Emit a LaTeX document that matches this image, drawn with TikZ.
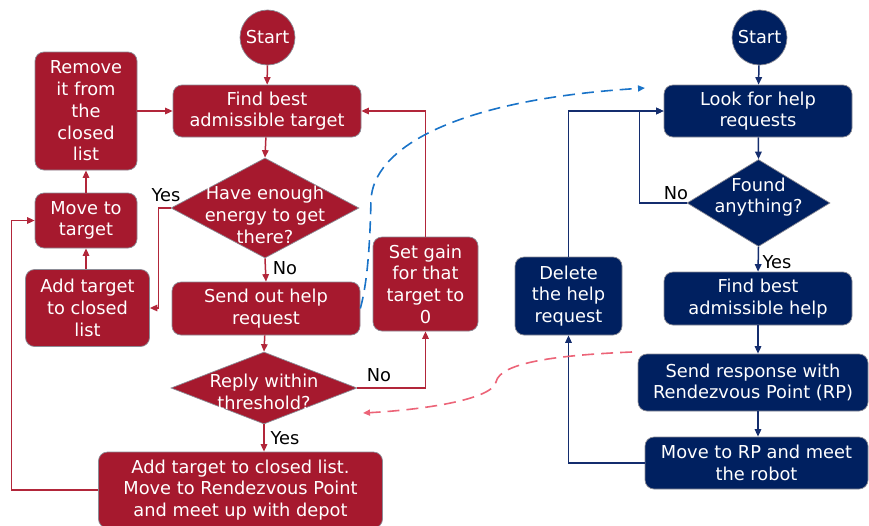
\documentclass[tikz,border=0pt]{standalone}
\usepackage{fontspec}
\setmainfont{DejaVu Sans}
\usetikzlibrary{shapes.geometric,arrows.meta}
\definecolor{robred}{RGB}{166,25,46}
\definecolor{robredline}{RGB}{178,38,58}
\definecolor{depnavy}{RGB}{0,32,96}
\definecolor{depnavyline}{RGB}{20,45,110}
\definecolor{edgegray}{RGB}{140,140,150}
\definecolor{reqblue}{RGB}{25,115,200}
\definecolor{resppink}{RGB}{236,100,120}
\tikzset{
  txt/.style={font=\fontsize{17.8}{21.7}\selectfont, text=white, align=center},
  procbox/.style={txt, rectangle, rounded corners=9pt, draw=edgegray, line width=0.7pt, inner sep=2pt},
  startdot/.style={txt, circle, draw=edgegray, line width=0.7pt, minimum size=55pt, inner sep=0pt},
  decision/.style={diamond, draw=edgegray, line width=0.7pt, inner sep=0pt},
  redbox/.style={fill=robred},
  navybox/.style={fill=depnavy},
  tip/.style={-{Triangle[length=7.5pt,width=6.5pt]}},
  redflow/.style={tip, draw=robredline, line width=1.5pt},
  navyflow/.style={tip, draw=depnavyline, line width=1.5pt},
  answer/.style={font=\fontsize{17.8}{21.7}\selectfont, text=black, inner sep=0pt},
  msg/.style={line width=1.6pt, dash pattern=on 12pt off 7pt, -{Triangle[length=7pt,width=6pt]}},
}
\begin{document}
\begin{tikzpicture}[x=1pt, y=-1pt]
\useasboundingbox (0,0) rectangle (869,525);

% ---------------- robot side (red) ----------------
\node[startdot, redbox] (s1) at (267.5,37.5) {\raisebox{-1.5pt}{Start}};
\node[procbox, redbox, minimum width=188pt, minimum height=52pt] (find) at (267,111) {Find best\\admissible target};
\node[procbox, redbox, minimum width=102pt, minimum height=118pt] (remove) at (86,111) {Remove\\it from\\the\\closed\\list};
\node[decision, redbox, minimum width=188pt, minimum height=100pt] (d1) at (265,208) {};
\node[txt] (d1t) at (265,215) {Have enough\\energy to get\\there?};
\node[procbox, redbox, minimum width=102pt, minimum height=55pt] (move) at (86,220.5) {Move to\\target};
\node[procbox, redbox, minimum width=124pt, minimum height=77pt] (addt) at (87.5,308) {Add target\\to closed\\list};
\node[procbox, redbox, minimum width=188pt, minimum height=53pt] (send) at (266,308.5) {Send out help\\request};
\node[decision, redbox, minimum width=186pt, minimum height=72pt] (d2) at (264,388) {};
\node[txt] (d2t) at (264,392) {Reply within\\threshold?};
\node[procbox, redbox, minimum width=284pt, minimum height=76pt] (final) at (240.5,490) {Add target to closed list.\\Move to Rendezvous Point\\and meet up with depot};
\node[procbox, redbox, minimum width=105pt, minimum height=94pt] (gain) at (425.5,284) {Set gain\\for that\\target to\\0};

\draw[redflow] (s1) -- (find);
\draw[redflow] (find) -- (d1.north);
\draw[redflow] (remove) -- (find);
\draw[redflow] (move) -- (remove);
\draw[redflow] (addt.north -| move.south) -- (move.south);
\draw[redflow] (d1.west) -- ++(-12,0) |- (addt.east);
\draw[redflow] (d1.south) -- (send.north);
\draw[redflow] (send) -- (d2.north);
\draw[redflow] (d2.east) -| (gain.south);
\draw[redflow] (gain.north) |- (find.east);
\draw[redflow] (d2.south) -- (d2.south |- final.north);
\draw[redflow] (final.west) -- ++(-86.5,0) |- (move.west);

\node[answer] (yes1) at (166,195) {Yes};
\node[answer] (no1) at (285,268) {No};
\node[answer] (no2) at (379,375) {No};
\node[answer] (yes2) at (285,438) {Yes};

% ---------------- depot side (navy) ----------------
\node[startdot, navybox] (s2) at (759.5,37.5) {\raisebox{-1.5pt}{Start}};
\node[procbox, navybox, minimum width=188pt, minimum height=52pt] (look) at (758,111) {Look for help\\requests};
\node[decision, navybox, minimum width=143pt, minimum height=87pt] (d3) at (758.5,203) {};
\node[txt] (d3t) at (758.5,197) {Found\\anything?};
\node[procbox, navybox, minimum width=188pt, minimum height=53pt] (fbh) at (758,298.5) {Find best\\admissible help};
\node[procbox, navybox, minimum width=230pt, minimum height=57pt] (resp) at (753,382.5) {Send response with\\Rendezvous Point (RP)};
\node[procbox, navybox, minimum width=223pt, minimum height=52pt] (mrp) at (756.5,463) {Move to RP and meet\\the robot};
\node[procbox, navybox, minimum width=107pt, minimum height=78pt] (del) at (568.5,296) {Delete\\the help\\request};

\draw[navyflow] (s2) -- (look);
\draw[navyflow] (look) -- (d3.north);
\draw[navyflow] (d3.west) -- ++(-47,0) |- (look.west);
\draw[navyflow] (d3.south) -- (fbh.north);
\draw[navyflow] (fbh.south) -- (fbh.south |- resp.north);
\draw[navyflow] (fbh.south |- resp.south) -- (fbh.south |- mrp.north);
\draw[navyflow] (mrp.west) -| (del.south);
\draw[navyflow] (del.north) |- (look.west);

\node[answer] (no3) at (676,193) {No};
\node[answer] (yes3) at (777,262) {Yes};

% ---------------- messages between the two sides ----------------
\draw[msg, reqblue] (send.east) .. controls (368,280) and (370,240) .. (371,200)
  .. controls (373,150) and (450,100) .. (645,88);
\draw[msg, resppink] (632,352) .. controls (560,355) and (500,362) .. (496,382)
  .. controls (492,400) and (420,410) .. (363,413);
\end{tikzpicture}
\end{document}
